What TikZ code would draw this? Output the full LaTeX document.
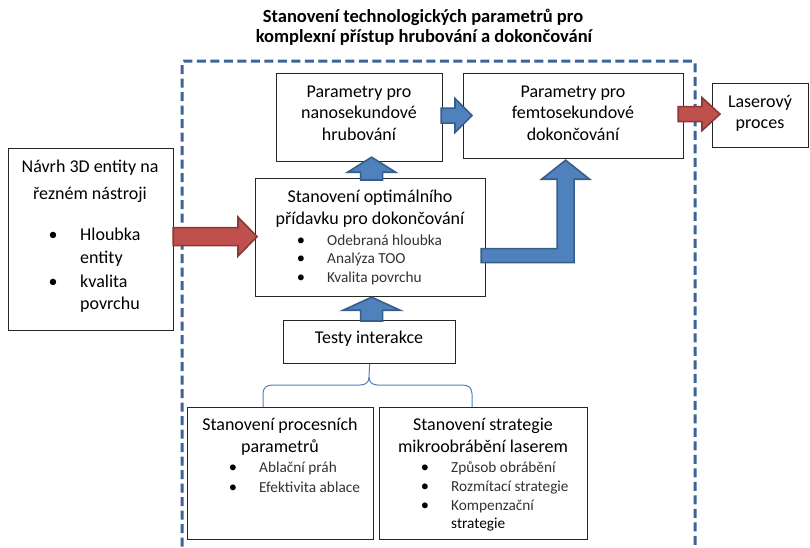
\documentclass[tikz,border=0pt]{standalone}
\usepackage{fontspec}
\setmainfont{Carlito}
\usepackage{tikz}
\usetikzlibrary{calc}

\definecolor{blueF}{HTML}{4F81BD}
\definecolor{blueD}{HTML}{385D8A}
\definecolor{redF}{HTML}{C0504D}
\definecolor{redD}{HTML}{8C3836}
\definecolor{frameB}{HTML}{3C6496}

% block arrow to the right: style, from, to, half shaft, half head, head length
\newcommand{\blockright}[6]{%
  \filldraw[#1] let \p1=(#2), \p2=(#3) in
    (\x1,\y1+#4) -- (\x2-#6,\y1+#4) -- (\x2-#6,\y1+#5) -- (\x2,\y1)
    -- (\x2-#6,\y1-#5) -- (\x2-#6,\y1-#4) -- (\x1,\y1-#4) -- cycle;}
% block arrow upwards: style, from, to, half shaft, half head, head length
\newcommand{\blockup}[6]{%
  \filldraw[#1] let \p1=(#2), \p2=(#3) in
    (\x1-#4,\y1) -- (\x1-#4,\y2-#6) -- (\x1-#5,\y2-#6) -- (\x1,\y2)
    -- (\x1+#5,\y2-#6) -- (\x1+#4,\y2-#6) -- (\x1+#4,\y1) -- cycle;}

\tikzset{
  box/.style={draw=black!85, line width=1.2pt, fill=white, inner sep=0pt, anchor=north west},
  ttl/.style={inner sep=0pt, anchor=base, font=\fontsize{18.5}{21}\selectfont\bfseries},
  txt/.style={inner sep=0pt, anchor=base, font=\fontsize{18}{22}\selectfont},
  itm/.style={inner sep=0pt, anchor=base west, font=\fontsize{15.3}{19}\selectfont, text=black!80},
  bul/.style={inner sep=0pt, anchor=base, font=\fontsize{16.5}{19}\selectfont},
  blueblock/.style={fill=blueF, draw=blueD, line width=1.6pt},
  redblock/.style={fill=redF, draw=redD, line width=1.6pt},
  frame/.style={draw=frameB, line width=3pt, dash pattern=on 9pt off 4.5pt, rounded corners=2pt},
  fork/.style={draw=blueF, line width=1pt}
}

\begin{document}
\begin{tikzpicture}[x=1pt, y=-1pt]
\useasboundingbox (0,0) rectangle (810,547);

% title
\node[ttl] (title1) at (423,22) {Stanovení technologických parametrů pro};
\node[ttl] (title2) at (424,42.5) {komplexní přístup hrubování a dokončování};

% dashed frame
\draw[frame] (182,560) -- (182,61) -- (695,61) -- (695,560);

% boxes
\node[box, minimum width=165pt, minimum height=182pt] (left) at (8,148) {};
\node[box, minimum width=166pt, minimum height=88pt] (nano) at (276,73) {};
\node[box, minimum width=220pt, minimum height=85pt] (femto) at (463,73) {};
\node[box, minimum width=96pt, minimum height=64pt] (laser) at (712,83) {};
\node[box, minimum width=230pt, minimum height=118pt] (opt) at (255,178) {};
\node[box, minimum width=172pt, minimum height=43pt] (testy) at (283,320) {};
\node[box, minimum width=186pt, minimum height=132pt] (proc) at (187,407) {};
\node[box, minimum width=208pt, minimum height=132pt] (strat) at (379,407) {};

% arrows
\blockright{redblock}{$(left.east)+(-1,-3)$}{$(opt.west)+(2,0)$}{9pt}{19.5pt}{19pt}
\blockright{blueblock}{$(nano.east)+(-2,-2)$}{$(femto.west)+(9,0)$}{7.5pt}{17pt}{17pt}
\blockright{redblock}{$(femto.east)+(-6,-2)$}{$(laser.west)+(8,0)$}{7.5pt}{16.5pt}{18pt}
\blockup{blueblock}{$(opt.north)+(1,2)$}{$(nano.south)+(0,-5)$}{11pt}{24pt}{15pt}
\blockup{blueblock}{$(testy.north)+(2,1)$}{$(opt.south)+(0,0)$}{11pt}{28.5pt}{13pt}
\coordinate (lfrom) at ($(opt.east)+(-5,18)$);
\coordinate (lto) at ($(femto.south)+(-8,1)$);
\filldraw[blueblock] let \p1=(lfrom), \p2=(lto) in
  (\x1,\y1+7pt) -- (\x2-8.5pt,\y1+7pt) -- (\x2-8.5pt,\y2-19pt) -- (\x2-24pt,\y2-19pt)
  -- (\x2,\y2) -- (\x2+24pt,\y2-19pt) -- (\x2+8.5pt,\y2-19pt) -- (\x2+8.5pt,\y1-7pt)
  -- (\x1,\y1-7pt) -- cycle;

% fork under Testy interakce
\draw[fork] (testy.south) -- (369,377) .. controls (369,382) and (366,385) .. (360,385)
  -- (273,385) .. controls (266,385) and (263,388) .. (263,394) -- (263,407);
\draw[fork] (369,377) .. controls (369,382) and (372,385) .. (378,385)
  -- (462,385) .. controls (469,385) and (472,388) .. (472,394) -- (472,407);

% texts
\node[txt] (left1) at (90,172) {Návrh 3D entity na};
\node[txt] (left2) at (90,199) {řezném nástroji};
\node[bul, font=\fontsize{18}{22}\selectfont] (leftb1) at (53,240) {\textbullet};
\node[bul, font=\fontsize{18}{22}\selectfont] (leftb2) at (53,287) {\textbullet};
\node[txt, anchor=base west] (leftt1) at (80,240) {Hloubka};
\node[txt, anchor=base west] (leftt2) at (80,263) {entity};
\node[txt, anchor=base west] (leftt3) at (80,287) {kvalita};
\node[txt, anchor=base west] (leftt4) at (80,309) {povrchu};

\node[txt] (nano1) at (359,97) {Parametry pro};
\node[txt] (nano2) at (359,118.5) {nanosekundové};
\node[txt] (nano3) at (359,140) {hrubování};

\node[txt] (femto1) at (573,97) {Parametry pro};
\node[txt] (femto2) at (573,118.5) {femtosekundové};
\node[txt] (femto3) at (573,140) {dokončování};

\node[txt] (laser1) at (760,107) {Laserový};
\node[txt] (laser2) at (760,128.5) {proces};

\node[txt] (opt1) at (370,202) {Stanovení optimálního};
\node[txt] (opt2) at (370,224.5) {přídavku pro dokončování};
\foreach \y/\t [count=\i] in {245/Odebraná hloubka, 263.5/Analýza TOO, 282/Kvalita povrchu} {
  \node[bul] (optb\i) at (301,\y) {\textbullet};
  \node[itm] (optt\i) at (327,\y) {\t};
}

\node[txt] (testy1) at (369,343) {Testy interakce};

\node[txt] (proc1) at (280,430) {Stanovení procesních};
\node[txt] (proc2) at (280,452) {parametrů};
\foreach \y/\t [count=\i] in {472/Ablační práh, 492/Efektivita ablace} {
  \node[bul] (procb\i) at (233,\y) {\textbullet};
  \node[itm] (proct\i) at (259,\y) {\t};
}

\node[txt] (strat1) at (483,430) {Stanovení strategie};
\node[txt] (strat2) at (483,452) {mikroobrábění laserem};
\foreach \y/\t [count=\i] in {472/Způsob obrábění, 491/Rozmítací strategie, 510/Kompenzační} {
  \node[bul] (stratb\i) at (425,\y) {\textbullet};
  \node[itm] (stratt\i) at (451,\y) {\t};
}
\node[itm, text=black] (stratt4) at (451,528.5) {strategie};

\end{tikzpicture}
\end{document}
